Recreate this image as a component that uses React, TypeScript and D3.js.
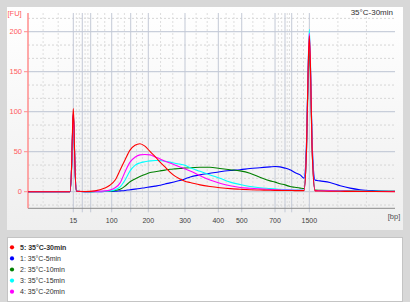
import React from 'react';
import * as d3 from 'd3';

// Ladder (DNA 1000 kit): sizes and migration times (s)
const ladderBp = [15, 25, 50, 100, 150, 200, 300, 400, 500, 700, 850, 1000, 1500];
const ladderTimes = [43.0, 45.36, 47.57, 53.09, 58.08, 62.7, 72.34, 81.09, 87.24, 95.99, 98.61, 100.37, 105.0];
const labeledBp = [15, 100, 200, 300, 400, 500, 700, 1500];
const yTicks = [0, 50, 100, 150, 200];

// Migration time samples (s)
const times = [31.1, 39.5, 42.13, 42.61, 42.82, 43.0, 43.18, 43.39, 43.84, 46.1, 48.7, 51.3, 52.6, 54.0, 55.3, 56.6, 57.9, 59.2, 60.5, 61.8, 63.2, 64.5, 65.8, 67.1, 68.4, 69.7, 71.0, 72.3, 73.7, 76.3, 78.9, 81.5, 84.2, 86.8, 89.4, 92.0, 94.7, 96.0, 97.3, 98.6, 99.9, 101.2, 102.6, 103.6, 104.26, 104.66, 105.0, 105.34, 105.71, 106.5, 107.8, 110.4, 113.1, 115.7, 118.3, 122.3, 127.5];

// Fluorescence [FU]
const fu30min = [0, 0, 0, 42, 83, 104, 83, 40, 0.5, 0.3, 1, 4.5, 8, 14.6, 27, 40, 52, 58, 60, 57, 50, 44, 37, 31, 24.5, 19.5, 16, 13, 11.5, 8.5, 6.5, 5, 3.8, 3.1, 2.5, 2.1, 1.8, 1.7, 1.6, 1.5, 1.5, 1.4, 1.4, 1.3, 54, 147, 195, 147, 56, 1, 0.8, 0.6, 0.5, 0.4, 0.3, 0.2, 0];
const fu5min = [0, 0, 0, 39, 78, 98, 78, 38, 0.5, 0, 0, 0.2, 0.3, 0.5, 1, 1.5, 2.5, 3.2, 4, 5, 6, 7, 8, 9.6, 11, 12.5, 14, 16, 18.5, 21, 23, 25, 26.5, 27.5, 29, 30, 31, 31.5, 31, 29.5, 27.5, 24, 21, 17, 62, 145, 188, 145, 65, 14.5, 13.5, 11.5, 7.5, 4.5, 2.5, 1.2, 0.5];
const fu10min = [0, 0, 0, 38, 76, 95, 76, 37, 0.5, 0, 0.2, 0.3, 0.5, 1.5, 3, 7, 12.5, 16, 19, 21.5, 24, 25, 26, 27, 28, 28.5, 29, 29.5, 30, 30.5, 30.5, 29, 27.5, 26, 23, 18, 13.5, 12, 10, 8.5, 6.5, 5.5, 4.5, 4, 52, 137, 180, 136, 55, 2, 1.8, 1.5, 1.2, 1, 0.8, 0.6, 0.4];
const fu15min = [0, 0, 0, 37, 74, 92, 74, 36, 0.5, 0, 0.2, 0.5, 1, 2.5, 6, 14.6, 26, 33, 36, 37.5, 38.5, 39, 39, 38, 37, 35.5, 34.5, 33, 30, 25.5, 21, 16.7, 12, 9, 6.5, 5, 4, 3.5, 3, 2.7, 2.4, 2.2, 2, 1.8, 56, 153, 203, 153, 62, 1.5, 1.4, 1.2, 1, 0.8, 0.6, 0.4, 0.3];
const fu20min = [0, 0, 0, 39, 78, 97, 78, 38, 0.5, 0, 0.5, 1, 2, 5, 11, 25, 37, 43, 46, 46.5, 46, 43.5, 41, 38, 36, 33.5, 31, 28.5, 26, 20, 14.5, 10.5, 7.5, 5.3, 4.3, 3.5, 2.8, 2.5, 2.2, 2.1, 2, 1.9, 1.8, 1.7, 55, 149, 198, 149, 60, 1.3, 1.2, 1, 0.8, 0.6, 0.5, 0.3, 0.2];

const legendNames = ['5: 35°C-30min', '1: 35°C-5min', '2: 35°C-10min', '3: 35°C-15min', '4: 35°C-20min'];
const legendColors = ['#ff0000', '#0000ff', '#008000', '#00ffff', '#ff00ff'];
const legendValues = [fu30min, fu5min, fu10min, fu15min, fu20min];
const drawOrder = [1, 2, 3, 4, 0];
const title = '35°C-30min';

const FONT = '"Liberation Sans", Arial, sans-serif';

export default function App() {
  const left = 28, right = 395, top = 13, bottom = 208.3;
  const x = d3.scaleLinear().domain([31.1, 127.5]).range([left, right]);
  const y = d3.scaleLinear().domain([-20.75, 223.4]).range([bottom, top]);

  const majorX = ladderTimes.map((t) => x(t));
  const bounds = [x.domain()[0], ...ladderTimes, x.domain()[1]];
  const minorX: number[] = [];
  for (let i = 0; i < bounds.length - 1; i++) {
    const a = bounds[i], b = bounds[i + 1];
    minorX.push(x(a + (b - a) / 3), x(a + (2 * (b - a)) / 3));
  }
  const minorY: number[] = [];
  for (let v = -50; v <= 250; v += 50) {
    [v + 50 / 3, v + 100 / 3].forEach((m) => {
      const py = y(m);
      if (py > top + 0.5 && py < bottom - 0.5) minorY.push(py);
    });
  }

  const line = d3
    .line<number>()
    .x((_, i) => x(times[i]))
    .y((d) => y(d))
    .curve(d3.curveMonotoneX);

  const bpToTime = (bp: number) => ladderTimes[ladderBp.indexOf(bp)];

  return (
    <svg width={410} height={302} style={{ position: 'absolute', left: 0, top: 0 }} fontFamily={FONT}>
      <defs>
        <linearGradient id="panelGrad" x1="0" y1="0" x2="0" y2="1">
          <stop offset="0" stopColor="#ffffff" />
          <stop offset="1" stopColor="#efefef" />
        </linearGradient>
        <clipPath id="plotClip">
          <rect x={left} y={top} width={right - left} height={bottom - top} />
        </clipPath>
      </defs>
      <rect x={0} y={0} width={410} height={302} fill="#d8d8d8" />
      <rect x={7} y={7} width={396} height={223} fill="url(#panelGrad)" />
      <rect x={7.5} y={237.5} width={395} height={64} fill="#ffffff" stroke="#c4c4c4" />

      {/* minor grid */}
      {minorY.map((py, i) => (
        <line key={'my' + i} x1={left} x2={right} y1={py} y2={py} stroke="#d6d6d6" strokeDasharray="2,2" />
      ))}
      {minorX.map((px, i) => (
        <line key={'mx' + i} x1={px} x2={px} y1={top} y2={bottom} stroke="#dedede" strokeDasharray="2,2" />
      ))}
      {/* major grid */}
      {yTicks.map((v) => (
        <line key={'gy' + v} x1={left} x2={right} y1={y(v)} y2={y(v)} stroke="#bcc3d2" />
      ))}
      {majorX.map((px, i) => (
        <line key={'gx' + i} x1={px} x2={px} y1={top} y2={bottom + 4} stroke="#c3c9d6" />
      ))}

      {/* x axis */}
      <line x1={left} x2={right} y1={bottom} y2={bottom} stroke="#8a8a8a" />
      {labeledBp.map((bp) => (
        <text key={'xl' + bp} x={x(bpToTime(bp))} y={222.5} fontSize={7} fill="#404040" textAnchor="middle">
          {bp}
        </text>
      ))}
      <text x={394} y={219} fontSize={7.5} fill="#505050" textAnchor="middle">[bp]</text>

      {/* y axis */}
      <line x1={left} x2={left} y1={top} y2={bottom} stroke="#ff8c8c" strokeWidth={1.5} />
      {yTicks.map((v) => (
        <g key={'yt' + v}>
          <line x1={left - 4} x2={left} y1={y(v)} y2={y(v)} stroke="#ff8c8c" />
          <text x={left - 6} y={y(v) + 2.6} fontSize={7.5} fill="#ff5a5a" textAnchor="end">
            {v}
          </text>
        </g>
      ))}
      <text x={7.5} y={16} fontSize={7.5} fill="#ff5a5a">[FU]</text>
      <text x={393} y={15} fontSize={8} fill="#303030" textAnchor="end">{title}</text>

      {/* traces */}
      <g clipPath="url(#plotClip)">
        {drawOrder.map((k) => (
          <path key={'s' + k} d={line(legendValues[k]) || ''} fill="none" stroke={legendColors[k]} strokeWidth={1.1} />
        ))}
      </g>

      {/* legend */}
      {legendNames.map((name, i) => (
        <g key={'lg' + i}>
          <circle cx={12} cy={247.3 + i * 11.1} r={2.1} fill={legendColors[i]} />
          <text x={20} y={249.8 + i * 11.1} fontSize={7} fill="#303030" fontWeight={i === 0 ? 'bold' : 'normal'}>
            {name}
          </text>
        </g>
      ))}
    </svg>
  );
}
